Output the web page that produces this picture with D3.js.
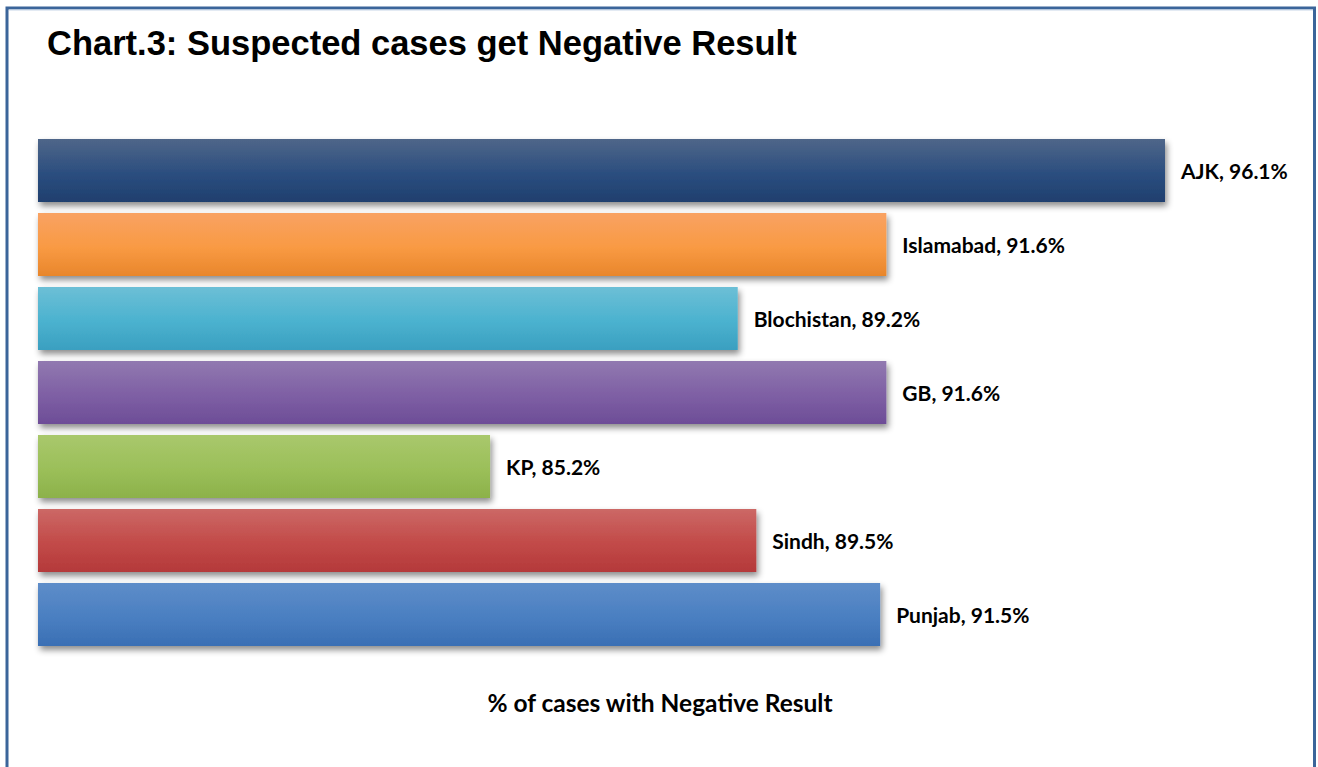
<!DOCTYPE html>
<html><head><meta charset="utf-8">
<script src="https://cdn.jsdelivr.net/npm/d3@7"></script>
<style>html,body{margin:0;padding:0;background:#fff;overflow:hidden}</style>
</head><body>
<svg id="c" width="1318" height="767"></svg>
<script>
const categories = ["AJK","Islamabad","Blochistan","GB","KP","Sindh","Punjab"];
const values = [96.1, 91.6, 89.2, 91.6, 85.2, 89.5, 91.5];
const colorsTop = ["#4f6689","#f9a263","#6cbfd6","#9179b0","#a9c86c","#cc6866","#5e8dc9"];
const colorsMid = ["#2b4e7f","#f99a43","#4bb2cf","#7e5fa4","#9bbf59","#c24a48","#4a7fc1"];
const colorsBot = ["#1f3f6e","#e8862b","#3a9fc0","#6d4d97","#8cb14a","#b4393a","#3a6fb4"];
const title = "Chart.3: Suspected cases get Negative Result";
const axisTitle = "% of cases with Negative Result";

const svg = d3.select("#c");
const defs = svg.append("defs");
const f = defs.append("filter").attr("id","sh").attr("x","-5%").attr("y","-30%").attr("width","110%").attr("height","160%");
f.append("feDropShadow").attr("dx",2).attr("dy",4).attr("stdDeviation",3).attr("flood-color","#000").attr("flood-opacity",0.45);

categories.forEach((c,i)=>{
  const g = defs.append("linearGradient").attr("id","g"+i).attr("x1",0).attr("y1",0).attr("x2",0).attr("y2",1);
  g.append("stop").attr("offset","0%").attr("stop-color",colorsTop[i]);
  g.append("stop").attr("offset","55%").attr("stop-color",colorsMid[i]);
  g.append("stop").attr("offset","100%").attr("stop-color",colorsBot[i]);
});

// frame
svg.append("rect").attr("x",7).attr("y",8).attr("width",1307.5).attr("height",800)
  .attr("fill","none").attr("stroke","#3b659a").attr("stroke-width",3);
svg.append("line").attr("x1",9).attr("x2",1313).attr("y1",10).attr("y2",10).attr("stroke","#c8d6e8").attr("stroke-width",1);

svg.append("text").attr("x",47).attr("y",55).text(title)
  .attr("font-family","Liberation Sans, Arial, sans-serif").attr("font-weight","bold").attr("font-size",34.5).attr("fill","#000");

const x = d3.scaleLinear().domain([77.9, 96.1]).range([38, 1165]);
const y = d3.scaleBand().domain(categories).range([139, 139+74*7-11]).paddingInner(11/74).paddingOuter(0);

const bars = svg.append("g");
bars.selectAll("rect").data(categories).join("rect")
  .attr("x", x(77.9))
  .attr("y", d=>y(d))
  .attr("width", (d,i)=>x(values[i]) - x(77.9))
  .attr("height", y.bandwidth())
  .attr("fill", (d,i)=>"url(#g"+i+")")
  .attr("filter","url(#sh)");

svg.append("g").selectAll("text").data(categories).join("text")
  .attr("x",(d,i)=>x(values[i])+16)
  .attr("y",d=>y(d)+y.bandwidth()/2+1)
  .attr("dy","0.35em")
  .text((d,i)=>d+", "+values[i].toFixed(1)+"%")
  .attr("font-family","Lato, Open Sans, sans-serif").attr("font-weight","bold").attr("font-size",21).attr("fill","#000");

svg.append("text").attr("x",660).attr("y",712).attr("text-anchor","middle").text(axisTitle)
  .attr("font-family","Lato, Open Sans, sans-serif").attr("font-weight","bold").attr("font-size",24.5).attr("fill","#000");
</script>
</body></html>
